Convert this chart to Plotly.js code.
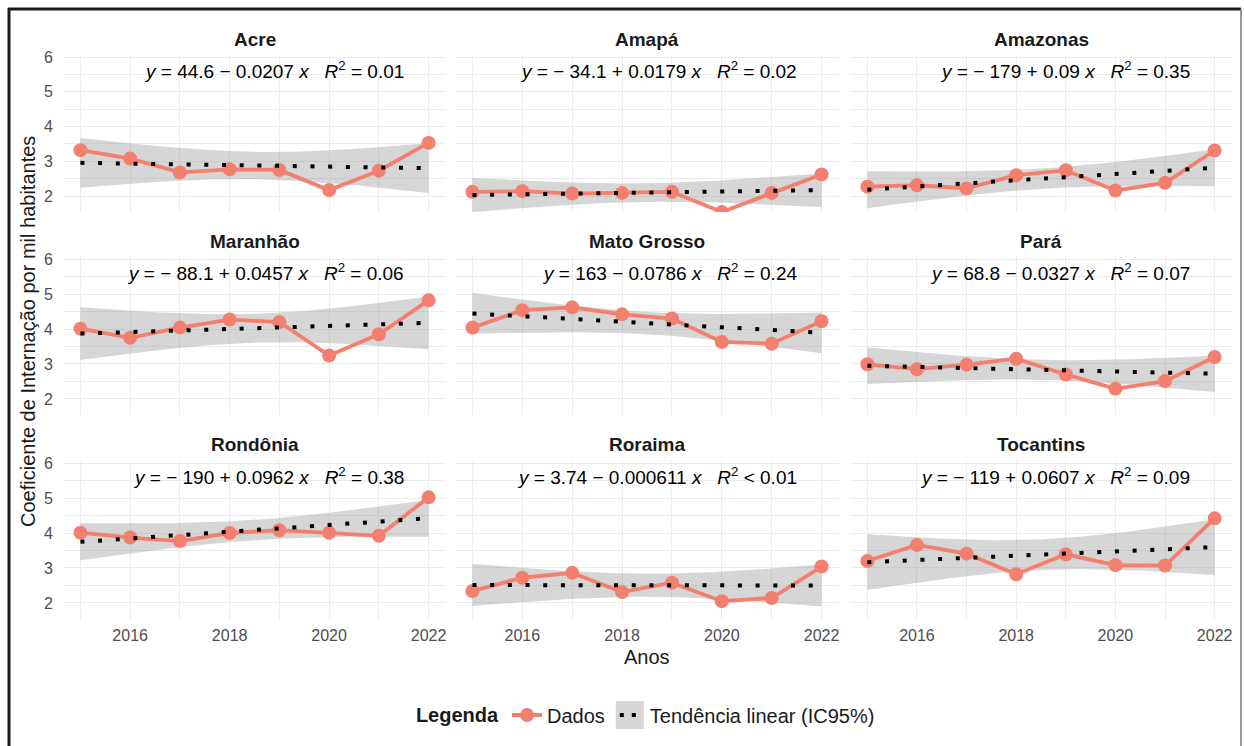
<!DOCTYPE html>
<html>
<head>
<meta charset="utf-8">
<script src="https://cdn.plot.ly/plotly-3.0.1.min.js"></script>
<style>html,body{margin:0;padding:0;background:#fff;}#chart{width:1244px;height:746px;}</style>
</head>
<body>
<div id="chart"></div>
<script>
// ---- Data ----
const anos = [2015, 2016, 2017, 2018, 2019, 2020, 2021, 2022];
const estados = ['Acre', 'Amapá', 'Amazonas', 'Maranhão', 'Mato Grosso', 'Pará', 'Rondônia', 'Roraima', 'Tocantins'];
const acre       = [3.32, 3.08, 2.68, 2.77, 2.75, 2.17, 2.73, 3.53];
const amapa      = [2.12, 2.14, 2.07, 2.09, 2.12, 1.54, 2.09, 2.62];
const amazonas   = [2.27, 2.31, 2.22, 2.60, 2.74, 2.16, 2.38, 3.31];
const maranhao   = [4.01, 3.75, 4.04, 4.27, 4.20, 3.24, 3.85, 4.82];
const matoGrosso = [4.04, 4.54, 4.62, 4.42, 4.30, 3.63, 3.58, 4.22];
const para       = [2.99, 2.85, 2.98, 3.15, 2.70, 2.29, 2.51, 3.20];
const rondonia   = [4.01, 3.87, 3.77, 4.00, 4.08, 4.01, 3.92, 5.02];
const roraima    = [2.34, 2.72, 2.86, 2.31, 2.58, 2.05, 2.14, 3.04];
const tocantins  = [3.20, 3.66, 3.41, 2.82, 3.39, 3.08, 3.07, 4.42];
const equacoes = [
  '<i>y</i> = 44.6 − 0.0207 <i>x</i>\u00a0\u00a0\u00a0<i>R</i><sup>2</sup> = 0.01',
  '<i>y</i> = − 34.1 + 0.0179 <i>x</i>\u00a0\u00a0\u00a0<i>R</i><sup>2</sup> = 0.02',
  '<i>y</i> = − 179 + 0.09 <i>x</i>\u00a0\u00a0\u00a0<i>R</i><sup>2</sup> = 0.35',
  '<i>y</i> = − 88.1 + 0.0457 <i>x</i>\u00a0\u00a0\u00a0<i>R</i><sup>2</sup> = 0.06',
  '<i>y</i> = 163 − 0.0786 <i>x</i>\u00a0\u00a0\u00a0<i>R</i><sup>2</sup> = 0.24',
  '<i>y</i> = 68.8 − 0.0327 <i>x</i>\u00a0\u00a0\u00a0<i>R</i><sup>2</sup> = 0.07',
  '<i>y</i> = − 190 + 0.0962 <i>x</i>\u00a0\u00a0\u00a0<i>R</i><sup>2</sup> = 0.38',
  '<i>y</i> = 3.74 − 0.000611 <i>x</i>\u00a0\u00a0\u00a0<i>R</i><sup>2</sup> < 0.01',
  '<i>y</i> = − 119 + 0.0607 <i>x</i>\u00a0\u00a0\u00a0<i>R</i><sup>2</sup> = 0.09'
];
const yTicks = [2, 3, 4, 5, 6];
const xTicks = [2016, 2018, 2020, 2022];
const series = [acre, amapa, amazonas, maranhao, matoGrosso, para, rondonia, roraima, tocantins];

// ---- Linear fit with 95% CI (as geom_smooth(method = "lm")) ----
function linFit(xs, ys) {
  const n = xs.length;
  const mx = xs.reduce((a, b) => a + b, 0) / n;
  const my = ys.reduce((a, b) => a + b, 0) / n;
  let sxx = 0, sxy = 0;
  for (let i = 0; i < n; i++) { sxx += (xs[i] - mx) ** 2; sxy += (xs[i] - mx) * (ys[i] - my); }
  const b = sxy / sxx, a = my - b * mx;
  let sse = 0;
  for (let i = 0; i < n; i++) sse += (ys[i] - a - b * xs[i]) ** 2;
  const s = Math.sqrt(sse / (n - 2));
  const t = 2.446912; // t(0.975, df = 6)
  const gx = [], up = [], lo = [];
  const steps = 80;
  for (let k = 0; k < steps; k++) {
    const x = xs[0] + (xs[n - 1] - xs[0]) * k / (steps - 1);
    const fit = a + b * x;
    const se = s * Math.sqrt(1 / n + (x - mx) ** 2 / sxx);
    gx.push(x); up.push(fit + t * se); lo.push(fit - t * se);
  }
  return { a, b, gx, up, lo };
}

// ---- Layout geometry (pixels) ----
const W = 1244, H = 746;
const colPx = [[63, 446], [455, 839], [850, 1232]];
const rowPx = [[55, 212], [257, 415], [461, 619]];
const px2x = p => p / W;
const px2y = p => 1 - p / H;

const salmon = '#F3806F';
const gridC = '#EBEBEB';
const ribbonC = 'rgba(153,153,153,0.4)';
const traces = [];
const layout = {
  width: W, height: H,
  margin: { l: 0, r: 0, t: 0, b: 0 },
  paper_bgcolor: '#ffffff', plot_bgcolor: '#ffffff',
  font: { family: 'Liberation Sans, Arial, sans-serif', color: '#1a1a1a', size: 16 },
  showlegend: true,
  legend: {
    orientation: 'h', x: 0.52, xanchor: 'center', y: px2y(715), yanchor: 'middle',
    title: { text: '<b>Legenda</b>', side: 'left', font: { size: 20, color: '#1a1a1a' } },
    font: { size: 20, color: '#1a1a1a' },
    itemwidth: 30, tracegroupgap: 0
  },
  annotations: [],
  shapes: []
};

for (let i = 0; i < 9; i++) {
  const r = Math.floor(i / 3), c = i % 3;
  const idx = i === 0 ? '' : String(i + 1);
  const xa = 'xaxis' + idx, ya = 'yaxis' + idx;
  const xr = 'x' + idx, yr = 'y' + idx;
  layout[xa] = {
    domain: [px2x(colPx[c][0]), px2x(colPx[c][1])],
    anchor: yr, range: [2014.65, 2022.35],
    tickmode: 'array', tickvals: xTicks, ticktext: xTicks.map(String),
    showticklabels: r === 2, ticks: '', ticklabelstandoff: 5,
    tickfont: { size: 16, color: '#4D4D4D' },
    showgrid: true, gridcolor: gridC, gridwidth: 1,
    minor: { tickmode: 'array', tickvals: [2015, 2017, 2019, 2021], showgrid: true, gridcolor: gridC, gridwidth: 1 },
    zeroline: false, showline: false, fixedrange: true
  };
  layout[ya] = {
    domain: [px2y(rowPx[r][1]), px2y(rowPx[r][0])],
    anchor: xr, range: [1.54, 6.06],
    tickmode: 'array', tickvals: yTicks, ticktext: yTicks.map(String),
    showticklabels: c === 0, ticks: '', ticklabelstandoff: 9,
    tickfont: { size: 16, color: '#4D4D4D' },
    showgrid: true, gridcolor: gridC, gridwidth: 1,
    minor: { tickmode: 'array', tickvals: [1.5, 2.5, 3.5, 4.5, 5.5], showgrid: true, gridcolor: gridC, gridwidth: 1 },
    zeroline: false, showline: false, fixedrange: true
  };

  const ys = series[i];
  const f = linFit(anos, ys);
  // ribbon
  traces.push({
    type: 'scatter', mode: 'lines', xaxis: xr, yaxis: yr,
    x: f.gx.concat(f.gx.slice().reverse()),
    y: f.up.concat(f.lo.slice().reverse()),
    fill: 'toself', fillcolor: ribbonC,
    line: { width: 0 }, showlegend: false, hoverinfo: 'skip'
  });
  // data
  traces.push({
    type: 'scatter', mode: 'lines+markers', xaxis: xr, yaxis: yr,
    x: anos, y: ys, name: 'Dados', legendgroup: 'dados', showlegend: i === 0,
    line: { color: salmon, width: 3.8 },
    marker: { color: salmon, size: 14 }
  });
  // trend
  const x0 = anos[0], x1 = anos[anos.length - 1];
  traces.push({
    type: 'scatter', mode: 'lines', xaxis: xr, yaxis: yr,
    x: [x0, x1], y: [f.a + f.b * x0, f.a + f.b * x1],
    line: { color: '#000000', width: 4, dash: '4px,13.7px' },
    showlegend: false, hoverinfo: 'skip'
  });

  // strip title
  layout.annotations.push({
    text: '<b>' + estados[i] + '</b>', xref: xr + ' domain', x: 0.5, xanchor: 'center',
    yref: 'paper', y: px2y(rowPx[r][0] - 16), yanchor: 'middle', showarrow: false,
    font: { size: 19, color: '#1a1a1a' }
  });
  // equation
  layout.annotations.push({
    text: equacoes[i], xref: xr + ' domain', x: 0.896, xanchor: 'right',
    yref: 'paper', y: px2y(rowPx[r][0] + 15), yanchor: 'middle', showarrow: false,
    font: { size: 19, color: '#000000' }
  });
}

// legend entry for trend + CI
traces.push({
  type: 'scatter', mode: 'lines', x: [null], y: [null],
  name: 'Tendência linear (IC95%)',
  line: { color: '#000000', width: 4, dash: '4px,8px' }, showlegend: true
});

// axis titles
layout.annotations.push({
  text: 'Coeficiente de Internação por mil habitantes', textangle: -90,
  xref: 'paper', x: px2x(28), yref: 'paper', y: px2y(332),
  xanchor: 'center', yanchor: 'middle', showarrow: false,
  font: { size: 20, color: '#1a1a1a' }
});
layout.annotations.push({
  text: 'Anos', xref: 'paper', x: px2x(647), yref: 'paper', y: px2y(657),
  xanchor: 'center', yanchor: 'middle', showarrow: false,
  font: { size: 20, color: '#1a1a1a' }
});

// outer frame
layout.shapes.push(
  { type: 'line', xref: 'paper', yref: 'paper', x0: px2x(9), x1: px2x(9), y0: px2y(8), y1: px2y(746), line: { color: '#1a1a1a', width: 3 } },
  { type: 'line', xref: 'paper', yref: 'paper', x0: px2x(8), x1: px2x(1241), y0: px2y(9), y1: px2y(9), line: { color: '#1a1a1a', width: 3 } },
  { type: 'line', xref: 'paper', yref: 'paper', x0: px2x(1241), x1: px2x(1241), y0: px2y(9), y1: px2y(746), line: { color: '#777777', width: 1.5 } }
);

Plotly.newPlot('chart', traces, layout, { displayModeBar: false, staticPlot: true }).then(function (gd) {
  // gray key box behind the dotted line in the "Tendência linear (IC95%)" legend item
  const items = gd.querySelectorAll('.legend .traces');
  const item = items[items.length - 1];
  if (!item) return;
  const lines = item.querySelector('.legendlines');
  const path = lines ? lines.querySelector('path') : null;
  if (path) path.setAttribute('d', 'M10,0h21');
  const ns = 'http://www.w3.org/2000/svg';
  const rect = document.createElementNS(ns, 'rect');
  rect.setAttribute('x', '6'); rect.setAttribute('y', '-14');
  rect.setAttribute('width', '28'); rect.setAttribute('height', '28');
  rect.setAttribute('fill', ribbonC);
  const parent = lines ? lines.parentNode : item;
  parent.insertBefore(rect, lines || parent.firstChild);
});
</script>
</body>
</html>
